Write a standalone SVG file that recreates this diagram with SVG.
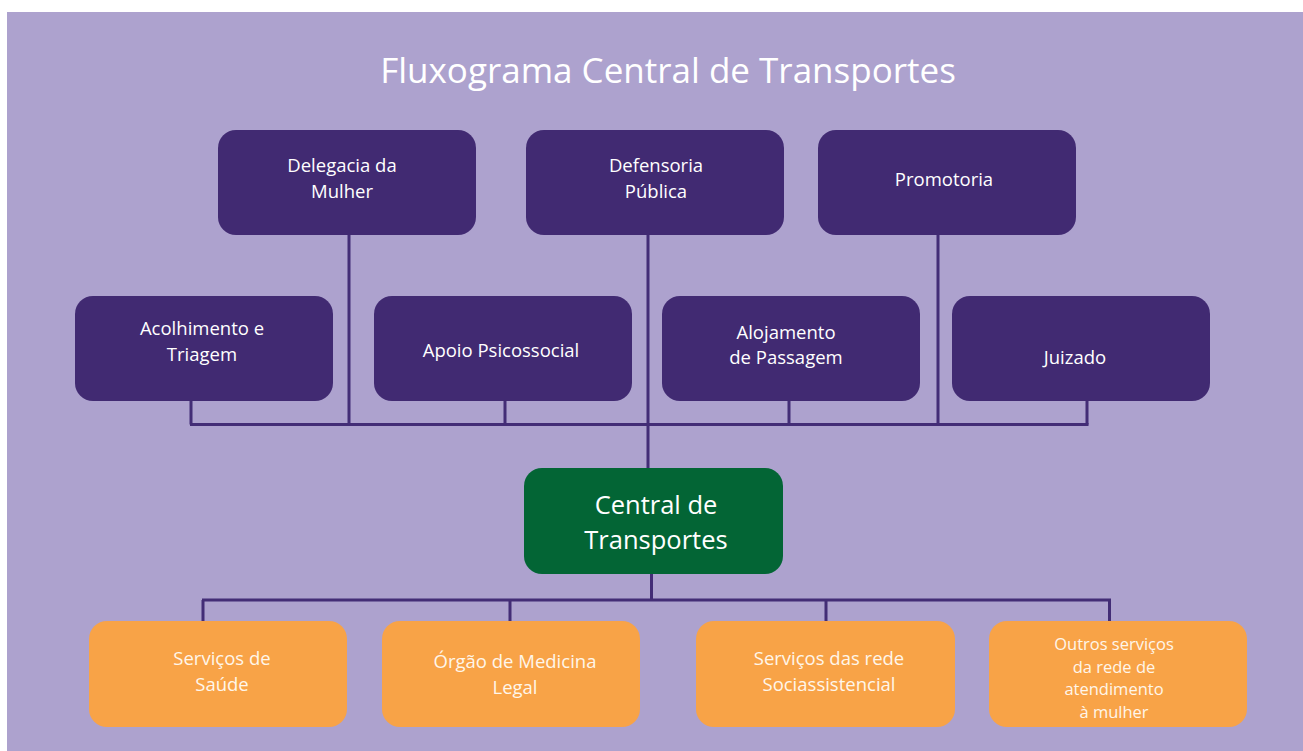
<svg xmlns="http://www.w3.org/2000/svg" width="1303" height="751" viewBox="0 0 1303 751">
<style>
.bg{fill:#ADA2CE}
.p{fill:#412A72}
.g{fill:#036535}
.o{fill:#F8A347}
.t{font-family:"Open Sans","Liberation Sans",sans-serif;fill:#FFFFFF;text-anchor:middle;font-size:18.5px}
.to{fill:#FFF6EA}
.s{font-size:16.5px}
.c{font-size:25.5px}
.ttl{font-family:"Open Sans","Liberation Sans",sans-serif;fill:#FFFFFF;text-anchor:middle;font-size:35px}
.ln{stroke:#432D76;stroke-width:3;fill:none}
</style>
<rect x="0" y="0" width="1303" height="751" fill="#FFFFFF"/>
<rect class="bg" x="7" y="12" width="1296" height="739"/>
<text class="ttl" x="668" y="83">Fluxograma Central de Transportes</text>
<g id="connectors">
<path class="ln" d="M190 424.5H1088.5"/>
<path class="ln" d="M191 401V424.5M505 401V424.5M789 401V424.5M1087 401V424.5"/>
<path class="ln" d="M349 235V424.5M938 235V424.5M648 235V468"/>
<path class="ln" d="M651.5 573V600M202 600H1111M203 600V622M510 600V622M826 600V622M1109.5 600V622"/>
</g>
<g id="delegacia"><rect class="p" x="218" y="130" width="258" height="105" rx="18"/><text class="t" x="342" y="172">Delegacia da</text><text class="t" x="342" y="198">Mulher</text></g>
<g id="defensoria"><rect class="p" x="526" y="130" width="258" height="105" rx="18"/><text class="t" x="656" y="172">Defensoria</text><text class="t" x="656" y="198">Pública</text></g>
<g id="promotoria"><rect class="p" x="818" y="130" width="258" height="105" rx="18"/><text class="t" x="944" y="186">Promotoria</text></g>
<g id="acolhimento"><rect class="p" x="75" y="296" width="258" height="105" rx="18"/><text class="t" x="202" y="335">Acolhimento e</text><text class="t" x="202" y="361">Triagem</text></g>
<g id="apoio"><rect class="p" x="374" y="296" width="258" height="105" rx="18"/><text class="t" x="501" y="357">Apoio Psicossocial</text></g>
<g id="alojamento"><rect class="p" x="662" y="296" width="258" height="105" rx="18"/><text class="t" x="786" y="339">Alojamento</text><text class="t" x="786" y="364">de Passagem</text></g>
<g id="juizado"><rect class="p" x="952" y="296" width="258" height="105" rx="18"/><text class="t" x="1075" y="364">Juizado</text></g>
<g id="central"><rect class="g" x="524" y="468" width="259" height="106" rx="18"/><text class="t c" x="656" y="514">Central de</text><text class="t c" x="656" y="549">Transportes</text></g>
<g id="saude"><rect class="o" x="89" y="621" width="258" height="106" rx="18"/><text class="t to" x="222" y="665">Serviços de</text><text class="t to" x="222" y="691">Saúde</text></g>
<g id="medicina"><rect class="o" x="382" y="621" width="258" height="106" rx="18"/><text class="t to" x="515" y="668">Órgão de Medicina</text><text class="t to" x="515" y="694">Legal</text></g>
<g id="socio"><rect class="o" x="696" y="621" width="259" height="106" rx="18"/><text class="t to" x="829" y="665">Serviços das rede</text><text class="t to" x="829" y="691">Sociassistencial</text></g>
<g id="outros"><rect class="o" x="989" y="621" width="258" height="106" rx="18"/><text class="t to s" x="1114" y="650">Outros serviços</text><text class="t to s" x="1114" y="672.5">da rede de</text><text class="t to s" x="1114" y="695">atendimento</text><text class="t to s" x="1114" y="717.5">à mulher</text></g>
</svg>
